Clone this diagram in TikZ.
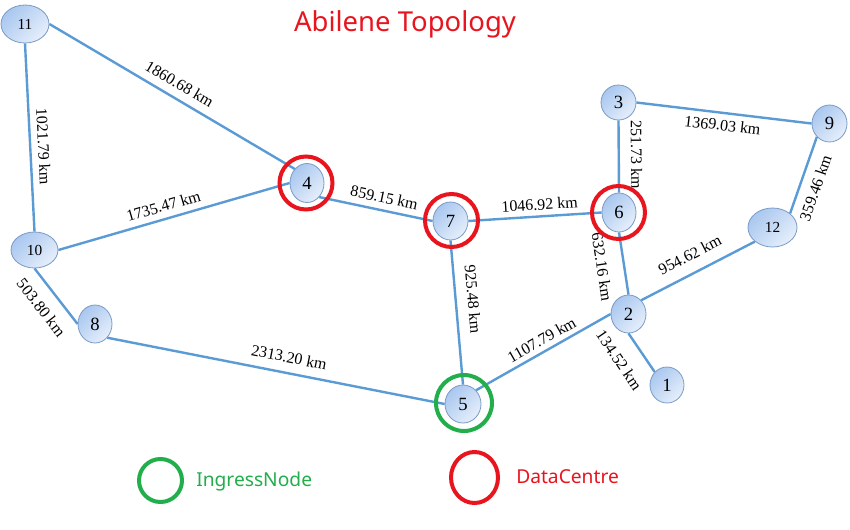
\documentclass[tikz,border=0pt]{standalone}
\usepackage{fontspec}
\setmainfont{Liberation Serif}
\newfontfamily\uisans{Noto Sans}
\usetikzlibrary{shapes.geometric}
\definecolor{edgeblue}{HTML}{5B9BD5}
\definecolor{nodeborder}{HTML}{7A9AC6}
\definecolor{nodetop}{HTML}{A9C7EF}
\definecolor{nodebot}{HTML}{E6EFFB}
\definecolor{dcred}{HTML}{E8141E}
\definecolor{ingreen}{HTML}{22AE4B}
\begin{document}
\begin{tikzpicture}[x=0.75pt,y=-0.75pt,
  vnode/.style 2 args={ellipse, draw=nodeborder, line width=0.6pt, top color=nodetop, bottom color=nodebot, shading angle=45, inner sep=0pt, minimum width=#1*0.75pt, minimum height=#2*0.75pt},
  bignum/.style={font=\fontsize{14}{14}\selectfont},
  smallnum/.style={font=\fontsize{11.5}{11.5}\selectfont},
  edge/.style={draw=edgeblue, line width=1.8pt},
  lab/.style={sloped, inner sep=0pt, font=\fontsize{12}{12}\selectfont},
  ring/.style 2 args={ellipse, draw=#1, line width=3pt, minimum width=#2*0.75pt, minimum height=#2*0.75pt, inner sep=0pt},
  legtext/.style={anchor=west, inner sep=0pt, font=\uisans\fontsize{14.4}{14.4}\selectfont}
]
\useasboundingbox (0,0) rectangle (850,529);
\fill[white] (0,0) rectangle (850,529);

% title
\node[text=dcred, font=\uisans\fontsize{20.6}{20.6}\selectfont] (title) at (405,24) {Abilene Topology};

% vertices
\node[vnode={48}{38}, smallnum] (n11) at (25,24) {11};
\node[vnode={47}{36}, smallnum] (n10) at (34.5,250) {10};
\node[vnode={34}{38}, bignum] (n8) at (95,324) {8};
\node[vnode={34}{39}, bignum] (n4) at (307,183) {4};
\node[vnode={35}{38}, bignum] (n7) at (450.5,221) {7};
\node[vnode={34}{39}, bignum] (n6) at (619,212.5) {6};
\node[vnode={35}{35}, bignum] (n3) at (618.5,102.5) {3};
\node[vnode={35}{37}, bignum] (n9) at (829.5,123.5) {9};
\node[vnode={49}{39}, smallnum] (n12) at (772.5,227.5) {12};
\node[vnode={35}{38}, bignum] (n2) at (628.5,314) {2};
\node[vnode={34}{36}, bignum] (n1) at (667,385) {1};
\node[vnode={36}{38}, bignum] (n5) at (463,404) {5};

% links
\draw[edge] (n11.south) -- node[lab, above=4.9pt, pos=.55] {1021.79 km} (n10.north);
\draw[edge] (n11.east) -- node[lab, above=5.9pt, pos=.5] {1860.68 km} (n4.north west);
\draw[edge] (n10.east) -- node[lab, above=4.6pt, pos=.47] {1735.47 km} (n4.west);
\draw[edge] (n10.south) -- node[lab, below=8.9pt, pos=.5] {503.80 km} (n8.west);
\draw[edge] (n4.south east) -- node[lab, above=4.6pt, pos=.55] {859.15 km} (n7.west);
\draw[edge] (n7.east) -- node[lab, above=3.8pt, pos=.54] {1046.92 km} (n6.west);
\draw[edge] (n7.south) -- node[lab, above=7.9pt, pos=.42] {925.48 km} (n5.north);
\draw[edge] (n8.south east) -- node[lab, above=6.7pt, pos=.53] {2313.20 km} (n5.west);
\draw[edge] (n3.south) -- node[lab, above=8.2pt, pos=.48] {251.73 km} (n6.north);
\draw[edge] (n3.east) -- node[lab, below=4.1pt, pos=.5] {1369.03 km} (n9.west);
\draw[edge] (n12.north east) -- node[lab, below=6.5pt, pos=.4] {359.46 km} (n9.south west);
\draw[edge] (n2.north east) -- node[lab, above=8.2pt, pos=.5] {954.62 km} (n12.south west);
\draw[edge] (n6.south) -- node[lab, below=11.3pt, pos=.5] {632.16 km} (n2.north);
\draw[edge] (n5.north east) -- node[lab, above=3.5pt, pos=.53] {1107.79 km} (n2.west);
\draw[edge] (n2.south) -- node[lab, below=12pt, pos=.36] {134.52 km} (n1.north west);

% data centre and ingress rings
\node[ring={dcred}{53}] (dc4) at (306,183) {};
\node[ring={dcred}{53}] (dc7) at (451.5,220.5) {};
\node[ring={dcred}{53}] (dc6) at (618.5,212.5) {};
\node[ring={ingreen}{56}] (in5) at (464,403) {};

% legend
\node[ring={ingreen}{43}] (legin) at (160.5,480.5) {};
\node[legtext, text=ingreen] (legintext) at (196,482) {IngressNode};
\node[ring={dcred}{47}, minimum height=51*0.75pt] (legdc) at (474.5,477.5) {};
\node[legtext, text=dcred] (legdctext) at (516,477) {DataCentre};
\end{tikzpicture}
\end{document}
